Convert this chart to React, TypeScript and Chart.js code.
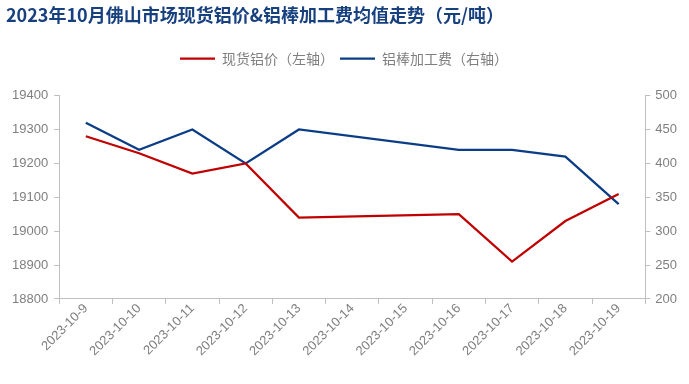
import React, { useEffect, useRef } from "react";
import { Chart, registerables } from "chart.js";

Chart.register(...registerables);

const categories = [
  "2023-10-9", "2023-10-10", "2023-10-11", "2023-10-12", "2023-10-13",
  "2023-10-14", "2023-10-15", "2023-10-16", "2023-10-17", "2023-10-18", "2023-10-19",
];
const spotPrice = [19280, 19230, 19170, 19200, 19040, null, null, 19050, 18910, 19030, 19110];
const processingFee = [460, 420, 450, 400, 450, null, null, 420, 420, 410, 340];

const titleText = "2023年10月佛山市场现货铝价&铝棒加工费均值走势（元/吨）";
const spotLabel = "现货铝价（左轴）";
const feeLabel = "铝棒加工费（右轴）";

const RED = "#C00000";
const BLUE = "#0A3D86";
const GRAY_TEXT = "#7F7F7F";
const AXIS = "#BFBFBF";

const legendSpacer = {
  id: "legendSpacer",
  beforeInit(chart: any) {
    const orig = chart.legend.fit;
    chart.legend.fit = function () {
      orig.call(this);
      this.height += 20;
    };
  },
};

export default function App() {
  const ref = useRef<HTMLCanvasElement>(null);
  useEffect(() => {
    const cjk = "'Noto Sans CJK SC', 'Liberation Sans', sans-serif";
    const num = "'Liberation Sans', 'DejaVu Sans', sans-serif";
    const chart = new Chart(ref.current!, {
      type: "line",
      plugins: [legendSpacer],
      data: {
        labels: categories,
        datasets: [
          {
            label: spotLabel,
            data: spotPrice,
            borderColor: RED,
            backgroundColor: RED,
            borderWidth: 2.25,
            pointRadius: 0,
            pointStyle: "line",
            spanGaps: true,
            tension: 0,
            yAxisID: "y",
          },
          {
            label: feeLabel,
            data: processingFee,
            borderColor: BLUE,
            backgroundColor: BLUE,
            borderWidth: 2.25,
            pointRadius: 0,
            pointStyle: "line",
            spanGaps: true,
            tension: 0,
            yAxisID: "y1",
          },
        ],
      },
      options: {
        responsive: false,
        animation: false,
        devicePixelRatio: 1,
        layout: { padding: { left: 6, right: 7, top: 4, bottom: 28 } },
        plugins: {
          title: {
            display: true,
            text: titleText,
            align: "start",
            color: "#17407F",
            font: { family: cjk, size: 18, weight: "bold" },
            padding: { top: 0, bottom: 20 },
          },
          legend: {
            display: true,
            position: "top",
            labels: {
              usePointStyle: true,
              pointStyleWidth: 35,
              color: GRAY_TEXT,
              font: { family: cjk, size: 14 },
              padding: 6,
            },
          },
          tooltip: { enabled: false },
        },
        scales: {
          x: {
            type: "category",
            offset: true,
            grid: {
              offset: true,
              drawOnChartArea: false,
              drawTicks: true,
              tickLength: 5,
              color: AXIS,
            },
            border: { color: AXIS },
            ticks: {
              color: GRAY_TEXT,
              font: { family: num, size: 13 },
              minRotation: 45,
              maxRotation: 45,
              autoSkip: false,
              padding: -3,
            },
          },
          y: {
            position: "left",
            min: 18800,
            max: 19400,
            grid: { drawOnChartArea: false, tickLength: 5, color: AXIS },
            border: { color: AXIS },
            ticks: {
              stepSize: 100,
              color: GRAY_TEXT,
              font: { family: num, size: 13 },
              padding: 6,
              callback: (v: any) => String(v),
            },
          },
          y1: {
            position: "right",
            min: 200,
            max: 500,
            grid: { drawOnChartArea: false, tickLength: 5, color: AXIS },
            border: { color: AXIS },
            ticks: {
              stepSize: 50,
              color: GRAY_TEXT,
              font: { family: num, size: 13 },
              padding: 5,
            },
          },
        },
      },
    });
    return () => chart.destroy();
  }, []);
  return (
    <div style={{ position: "absolute", left: 0, top: 0, width: 689, height: 384, background: "#fff" }}>
      <canvas ref={ref} width={689} height={384} />
    </div>
  );
}
